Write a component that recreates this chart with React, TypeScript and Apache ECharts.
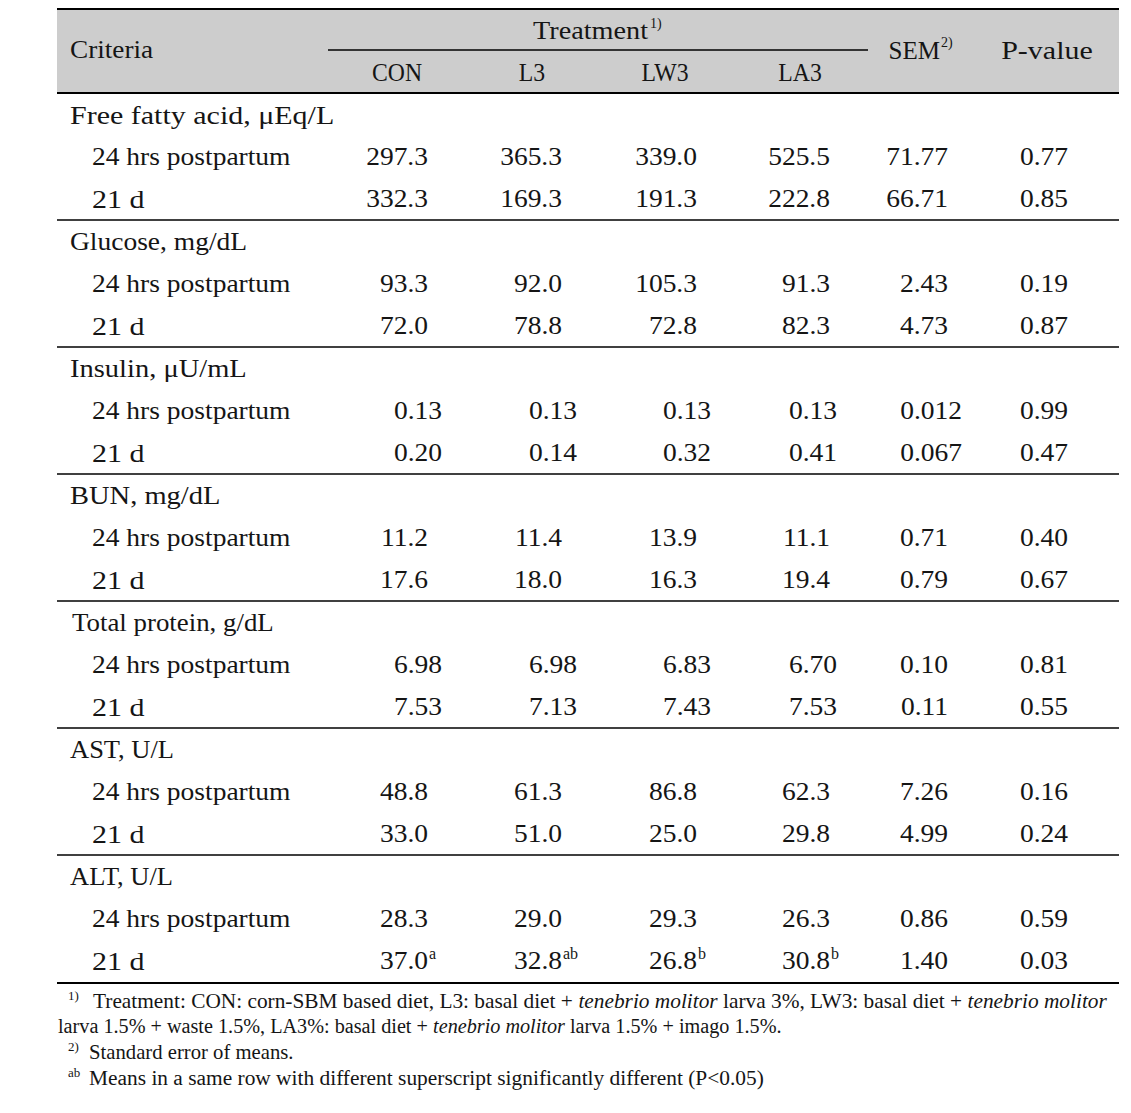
import React, { useEffect, useRef } from "react";
import * as echarts from "echarts";

// ---------- data ----------
const GROUPS = [
  "Free fatty acid, μEq/L",
  "Glucose, mg/dL",
  "Insulin, μU/mL",
  "BUN, mg/dL",
  "Total protein, g/dL",
  "AST, U/L",
  "ALT, U/L",
];
const SUBROWS = ["24 hrs postpartum", "21 d"];
const TREATMENTS = ["CON", "L3", "LW3", "LA3"];

// columns: CON, L3, LW3, LA3, SEM, P-value
const FFA_24 = ["297.3", "365.3", "339.0", "525.5", "71.77", "0.77"];
const FFA_21 = ["332.3", "169.3", "191.3", "222.8", "66.71", "0.85"];
const GLU_24 = ["93.3", "92.0", "105.3", "91.3", "2.43", "0.19"];
const GLU_21 = ["72.0", "78.8", "72.8", "82.3", "4.73", "0.87"];
const INS_24 = ["0.13", "0.13", "0.13", "0.13", "0.012", "0.99"];
const INS_21 = ["0.20", "0.14", "0.32", "0.41", "0.067", "0.47"];
const BUN_24 = ["11.2", "11.4", "13.9", "11.1", "0.71", "0.40"];
const BUN_21 = ["17.6", "18.0", "16.3", "19.4", "0.79", "0.67"];
const TP_24 = ["6.98", "6.98", "6.83", "6.70", "0.10", "0.81"];
const TP_21 = ["7.53", "7.13", "7.43", "7.53", "0.11", "0.55"];
const AST_24 = ["48.8", "61.3", "86.8", "62.3", "7.26", "0.16"];
const AST_21 = ["33.0", "51.0", "25.0", "29.8", "4.99", "0.24"];
const ALT_24 = ["28.3", "29.0", "29.3", "26.3", "0.86", "0.59"];
const ALT_21 = ["37.0", "32.8", "26.8", "30.8", "1.40", "0.03"];
const ALT_21_SUP = ["a", "ab", "b", "b", "", ""];

const ROWS = [
  [FFA_24, FFA_21],
  [GLU_24, GLU_21],
  [INS_24, INS_21],
  [BUN_24, BUN_21],
  [TP_24, TP_21],
  [AST_24, AST_21],
  [ALT_24, ALT_21],
];
const SUPS: Record<string, string[]> = { "6-1": ALT_21_SUP };

const FOOT1 = "Treatment: CON: corn-SBM based diet, L3: basal diet + ";
const FOOT1B = " larva 3%, LW3: basal diet + ";
const FOOT2 = "larva 1.5% + waste 1.5%, LA3%: basal diet + ";
const FOOT2B = " larva 1.5% + imago 1.5%.";
const ITALIC = "tenebrio molitor";
const FOOT3 = "Standard error of means.";
const FOOT4 = "Means in a same row with different superscript significantly different (P<0.05)";

// ---------- layout ----------
const FONT = "'Liberation Serif', 'Times New Roman', serif";
const INK = "#151515";
const BODY = 25;
const FOOT = 20;
const SUPSZ = 14;
const LEFT = 57;
const RIGHT = 1119;
const GROUP_SCALE = [1.2, 1.1, 1.14, 1.14, 1.075, 1.06, 1.06];

function txt(x: number, y: number, text: string, size: number, align = "left", extra: any = {}, sx = 1) {
  return {
    type: "text",
    x,
    y,
    scaleX: sx,
    silent: true,
    style: {
      text,
      fill: INK,
      font: `${size}px ${FONT}`,
      align,
      textAlign: align,
      verticalAlign: "middle",
      textVerticalAlign: "middle",
      ...extra,
    },
  };
}
function hline(x1: number, x2: number, y: number, w: number) {
  return {
    type: "line",
    silent: true,
    shape: { x1, y1: y, x2, y2: y },
    style: { stroke: "#000", lineWidth: w },
  };
}
function decimals(s: string) {
  const p = s.split(".");
  return p.length > 1 ? p[1].length : 0;
}

function buildGraphics() {
  const g: any[] = [];
  // header
  g.push({ type: "rect", silent: true, shape: { x: LEFT, y: 9, width: RIGHT - LEFT, height: 84 }, style: { fill: "#cdcdcd" } });
  g.push(hline(LEFT, RIGHT, 9, 2));
  g.push(hline(LEFT, RIGHT, 93, 2));
  g.push(hline(328, 868, 50, 1.5));
  g.push(txt(70, 50, "Criteria", BODY, "left", {}, 1.09));
  g.push(txt(648, 31, "Treatment", BODY, "right", {}, 1.13));
  g.push(txt(650, 23, "1)", SUPSZ));
  const colCenters = [397, 532, 665, 800];
  TREATMENTS.forEach((t, i) => g.push(txt(colCenters[i], 72, t, BODY, "center", {}, 0.95)));
  g.push(txt(940, 50, "SEM", BODY, "right"));
  g.push(txt(941, 42, "2)", SUPSZ));
  g.push(txt(1047, 50, "P-value", BODY, "center", {}, 1.2));

  // body
  const right1 = [428, 562, 697, 830];
  const right2 = [442, 577, 711, 837];
  const pitch = 127;
  GROUPS.forEach((label, gi) => {
    const base = gi * pitch;
    g.push(txt(gi === 4 ? 72 : 70, 115 + base, label, BODY, "left", {}, GROUP_SCALE[gi]));
    ROWS[gi].forEach((vals, ri) => {
      const y = 157 + base + ri * 42;
      g.push(txt(92, y, SUBROWS[ri], BODY, "left", {}, ri === 0 ? 1.1 : 1.2));
      const sup = SUPS[`${gi}-${ri}`];
      vals.forEach((v, ci) => {
        let x: number;
        if (ci < 4) x = decimals(v) >= 2 ? right2[ci] : right1[ci];
        else if (ci === 4) x = decimals(v) >= 3 ? 962 : 948;
        else x = 1068;
        g.push(txt(x, y, v, BODY, "right", {}, 1.1));
        if (sup && sup[ci]) g.push(txt(x + 1, y - 8, sup[ci], SUPSZ + 2));
      });
    });
    const last = gi === GROUPS.length - 1;
    g.push(hline(LEFT, RIGHT, 220 + base + (last ? 1 : 0), last ? 2 : 1.5));
  });

  // footnotes
  const rich = {
    n: { font: `${FOOT}px ${FONT}`, fill: INK },
    i: { font: `italic ${FOOT}px ${FONT}`, fill: INK },
  };
  g.push(txt(68, 995, "1)", 13));
  g.push(txt(93, 1001, `{n|${FOOT1}}{i|${ITALIC}}{n|${FOOT1B}}{i|${ITALIC}}`, FOOT, "left", { rich }, 1.067));
  g.push(txt(58, 1026, `{n|${FOOT2}}{i|${ITALIC}}{n|${FOOT2B}}`, FOOT, "left", { rich }, 1.01));
  g.push(txt(68, 1046, "2)", 13));
  g.push(txt(89, 1052, FOOT3, FOOT, "left", {}, 1.035));
  g.push(txt(68, 1072, "ab", 13));
  g.push(txt(89, 1078, FOOT4, FOOT, "left", {}, 1.07));
  return g;
}

export default function App() {
  const ref = useRef<HTMLDivElement>(null);
  useEffect(() => {
    if (!ref.current) return;
    const chart = echarts.init(ref.current, undefined, { renderer: "svg" });
    chart.setOption({
      animation: false,
      backgroundColor: "#ffffff",
      graphic: { elements: buildGraphics() },
    });
    return () => chart.dispose();
  }, []);
  return (
    <div
      ref={ref}
      style={{ position: "absolute", left: 0, top: 0, width: 1131, height: 1113, background: "#fff" }}
    />
  );
}
